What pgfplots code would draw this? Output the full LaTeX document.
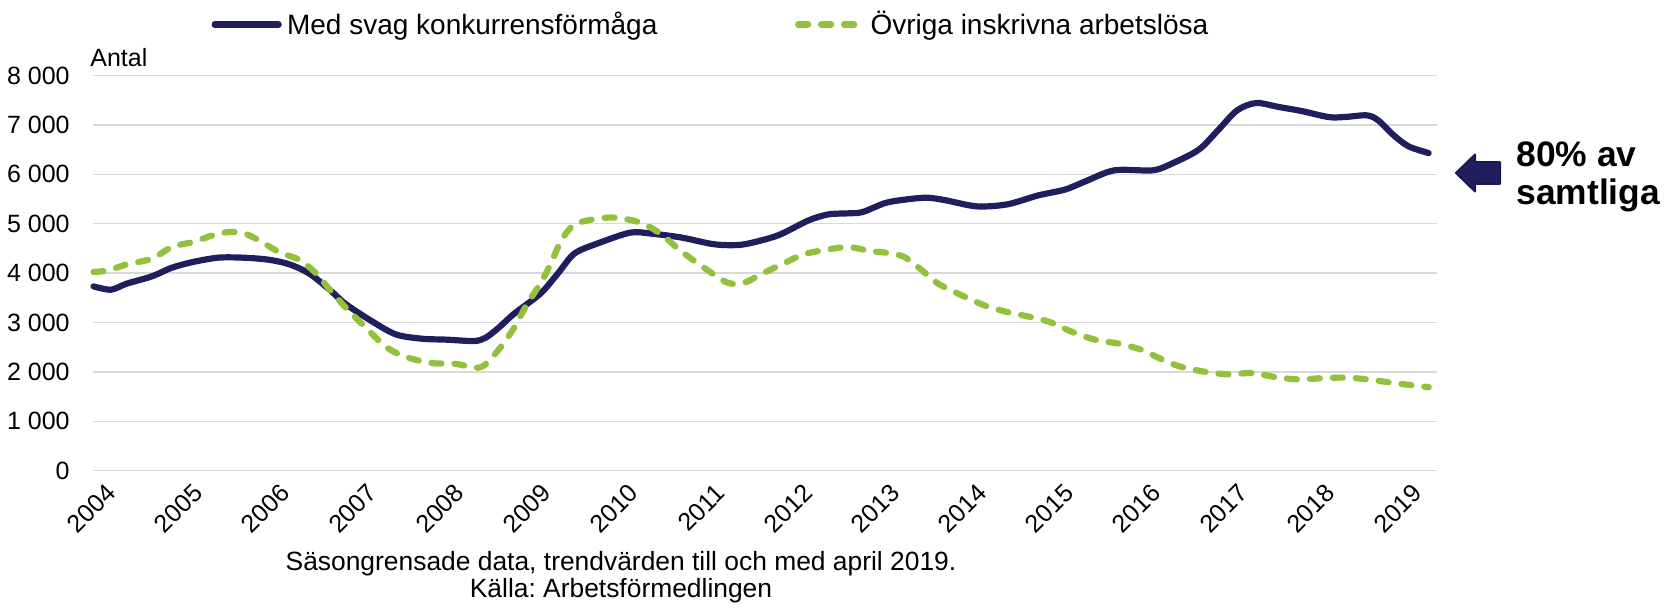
\documentclass[border=0pt]{standalone}
\usepackage{pgfplots}
\pgfplotsset{compat=1.18}
\usepackage{pgfplotstable}
\usepackage{fontspec}
\setmainfont{Liberation Sans}
\frenchspacing
\definecolor{navy}{RGB}{33,30,94}
\definecolor{navyd}{RGB}{26,24,80}
\definecolor{lgreen}{RGB}{146,193,62}
\definecolor{gridgray}{RGB}{217,217,217}

\pgfplotstableread{
year val
2004.00 3731
2004.20 3664
2004.38 3785
2004.67 3934
2004.90 4109
2005.14 4224
2005.43 4312
2005.72 4312
2006.01 4271
2006.25 4177
2006.48 3988
2006.72 3650
2006.89 3381
2007.18 3043
2007.47 2760
2007.77 2672
2008.06 2652
2008.37 2625
2008.50 2690
2008.64 2875
2008.83 3178
2009.13 3583
2009.33 3988
2009.52 4393
2009.78 4595
2010.16 4818
2010.40 4800
2010.75 4720
2011.10 4590
2011.33 4565
2011.51 4595
2011.86 4764
2012.21 5067
2012.44 5189
2012.67 5210
2012.83 5236
2013.09 5418
2013.31 5486
2013.57 5526
2013.79 5472
2014.14 5351
2014.49 5391
2014.85 5574
2015.15 5688
2015.37 5843
2015.72 6080
2016.16 6080
2016.38 6215
2016.69 6498
2016.91 6889
2017.13 7294
2017.35 7443
2017.61 7362
2017.87 7281
2018.18 7159
2018.36 7159
2018.62 7193
2018.75 7092
2018.93 6788
2019.10 6565
2019.33 6430
}\svag

\pgfplotstableread{
year val
2004.00 4022
2004.17 4055
2004.38 4177
2004.67 4291
2004.90 4528
2005.14 4629
2005.37 4764
2005.55 4831
2005.72 4811
2005.90 4663
2006.13 4426
2006.36 4271
2006.54 4022
2006.72 3650
2006.89 3313
2007.12 2908
2007.36 2503
2007.59 2301
2007.88 2179
2008.14 2166
2008.41 2085
2008.52 2186
2008.67 2490
2008.83 2895
2008.98 3381
2009.13 3785
2009.25 4190
2009.37 4656
2009.52 4980
2009.78 5101
2010.01 5121
2010.28 5020
2010.51 4798
2010.74 4453
2011.01 4109
2011.28 3806
2011.47 3806
2011.69 4001
2011.92 4190
2012.15 4379
2012.44 4480
2012.67 4528
2012.92 4447
2013.13 4406
2013.31 4325
2013.49 4089
2013.70 3785
2013.97 3549
2014.23 3347
2014.49 3212
2014.76 3111
2014.98 3009
2015.24 2807
2015.50 2652
2015.77 2571
2016.03 2449
2016.25 2267
2016.47 2112
2016.78 1997
2017.04 1950
2017.30 1977
2017.57 1896
2017.83 1849
2018.14 1876
2018.40 1883
2018.66 1842
2018.93 1775
2019.33 1690
}\ovriga

\begin{document}
\begin{tikzpicture}
\path[use as bounding box] (-46.75pt,-68.65pt) rectangle (786.25pt,235.35pt);
\begin{axis}[
  at={(0pt,0pt)}, anchor=south west,
  scale only axis, width=671.5pt, height=197.6pt,
  xmin=2004, xmax=2019.42, ymin=0, ymax=8000,
  axis line style={draw=none},
  major tick length=0pt,
  tick style={draw=none},
  ymajorgrids,
  grid style={color=gridgray, line width=0.75pt},
  ytick={0,1000,2000,3000,4000,5000,6000,7000,8000},
  yticklabels={0,1 000,2 000,3 000,4 000,5 000,6 000,7 000,8 000},
  xtick={2004,2005,2006,2007,2008,2009,2010,2011,2012,2013,2014,2015,2016,2017,2018,2019},
  xticklabels={2004,2005,2006,2007,2008,2009,2010,2011,2012,2013,2014,2015,2016,2017,2018,2019},
  tick label style={font=\fontsize{12.5}{14}\selectfont},
  yticklabel style={anchor=east, inner sep=0pt, xshift=-11.75pt},
  xticklabel style={rotate=45, anchor=east, inner sep=0pt, xshift=0pt, yshift=-12.6pt},
  legend columns=2,
  legend style={at={(axis description cs:0.0879,1.129)}, anchor=west,
    draw=none, fill=none, inner sep=0pt, outer sep=0pt,
    font=\fontsize{14}{16}\selectfont,
    nodes={inner sep=0pt, outer sep=0pt},
    /tikz/every odd column/.append style={column sep=2.65pt},
    /tikz/every even column/.append style={column sep=68.8pt}},
  legend image code/.code={\draw[#1] (0pt,0pt) -- (32pt,0pt);},
  clip=false,
]
\addplot[navy, line width=3.1pt, line cap=round, smooth, tension=0.5] table[x=year,y=val] {\svag};
\addlegendentry{Med svag konkurrensförmåga}
\addplot[lgreen, line width=3.1pt, line cap=round, dash pattern=on 5pt off 6.5pt, smooth, tension=0.5] table[x=year,y=val] {\ovriga};
\addlegendentry{Övriga inskrivna arbetslösa}
\end{axis}
\node[anchor=base west, inner sep=0pt, font=\fontsize{12.5}{14}\selectfont] at (-1.75pt,201.85pt) {Antal};
\node[anchor=base, inner sep=0pt, font=\fontsize{13.2}{15}\selectfont] at (263.75pt,-49.8pt) {Säsongrensade data, trendvärden till och med april 2019.};
\node[anchor=base, inner sep=0pt, font=\fontsize{13.2}{15}\selectfont] at (263.75pt,-63.6pt) {Källa: Arbetsförmedlingen};
\draw[fill=navy, draw=navyd, line width=1pt, line join=round]
  (681.25pt,148.85pt) -- (690.75pt,158.1pt) -- (690.75pt,154.25pt) -- (703.25pt,154.25pt)
  -- (703.25pt,143.45pt) -- (690.75pt,143.45pt) -- (690.75pt,139.6pt) -- cycle;
\node[anchor=base west, inner sep=0pt, font=\bfseries\fontsize{17.7}{20}\selectfont] at (711.25pt,151.95pt) {80\% av};
\node[anchor=base west, inner sep=0pt, font=\bfseries\fontsize{17.7}{20}\selectfont] at (711.25pt,132.85pt) {samtliga};
\end{tikzpicture}
\end{document}
